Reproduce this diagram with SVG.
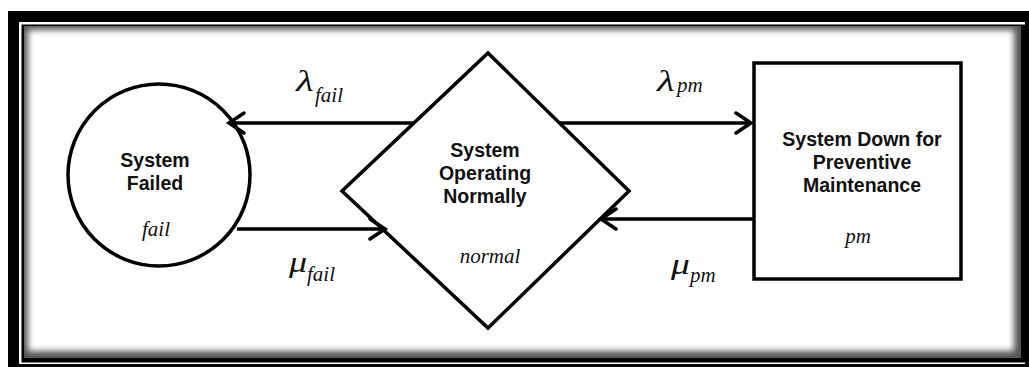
<svg xmlns="http://www.w3.org/2000/svg" width="1029" height="367" viewBox="0 0 1029 367">
  <defs>
    <filter id="soft" x="-5%" y="-5%" width="110%" height="110%">
      <feGaussianBlur stdDeviation="3"/>
    </filter>
    <clipPath id="inner">
      <rect x="24" y="26" width="997" height="332"/>
    </clipPath>
    <marker id="arr" markerUnits="userSpaceOnUse" markerWidth="24" markerHeight="24" viewBox="-18 -12 22 24" refX="0" refY="0" orient="auto">
      <path d="M-15,-10 L0,0 L-15,10" fill="none" stroke="#000" stroke-width="3.5" stroke-linecap="round" stroke-linejoin="miter"/>
    </marker>
    <style>
      .shape { fill: #fff; stroke: #000; stroke-width: 3.5; }
      .conn { fill: none; stroke: #000; stroke-width: 3.5; marker-end: url(#arr); }
      .lbl { font-family: "Liberation Sans", Arial, sans-serif; font-weight: bold; font-size: 19.5px; fill: #111; text-anchor: middle; }
      .ital { font-family: "Liberation Serif", "Times New Roman", serif; font-style: italic; font-size: 21px; fill: #111; text-anchor: middle; }
      .greek { font-family: "Liberation Serif", "Times New Roman", serif; font-style: italic; font-size: 30px; fill: #111; }
      .sub { font-family: "Liberation Serif", "Times New Roman", serif; font-style: italic; font-size: 21px; fill: #111; }
    </style>
  </defs>

  <!-- frame -->
  <g id="frame">
    <rect x="0" y="0" width="1029" height="367" fill="#fff"/>
    <rect x="8" y="11" width="1030" height="370" fill="#000"/>
    <rect x="19" y="22" width="1006" height="342" fill="#fff"/>
    <rect x="21.5" y="24.5" width="1010" height="338" fill="#000"/>
    <g clip-path="url(#inner)">
      <rect x="24" y="26" width="997" height="332" fill="#555"/>
      <rect x="28" y="30" width="986" height="321" fill="#fff" filter="url(#soft)"/>
    </g>
  </g>

  <!-- nodes -->
  <g id="node-fail">
    <circle class="shape" cx="159" cy="175" r="91"/>
    <text class="lbl" x="155" y="167">System</text>
    <text class="lbl" x="155" y="190">Failed</text>
    <text class="ital" x="156" y="236">fail</text>
  </g>

  <g id="node-normal">
    <polygon class="shape" points="488,53 629,191 488,328 342,191"/>
    <text class="lbl" x="485" y="157">System</text>
    <text class="lbl" x="485" y="180">Operating</text>
    <text class="lbl" x="485" y="203">Normally</text>
    <text class="ital" x="490" y="263">normal</text>
  </g>

  <g id="node-pm">
    <rect class="shape" x="754" y="63" width="207" height="216"/>
    <text class="lbl" x="862" y="146">System Down for</text>
    <text class="lbl" x="862" y="169">Preventive</text>
    <text class="lbl" x="862" y="192">Maintenance</text>
    <text class="ital" x="858" y="243">pm</text>
  </g>

  <!-- connectors -->
  <g id="connectors">
    <line class="conn" x1="414" y1="123" x2="229" y2="123"/>
    <line class="conn" x1="237" y1="229" x2="385" y2="229"/>
    <line class="conn" x1="559" y1="123" x2="751" y2="123"/>
    <line class="conn" x1="754" y1="219" x2="601" y2="219"/>
  </g>

  <!-- connector labels -->
  <g id="labels">
    <text class="greek" transform="translate(296,91) scale(1.35,1)">λ</text>
    <text class="sub" x="315" y="102">fail</text>
    <text class="greek" transform="translate(289,272) scale(1.2,1)">μ</text>
    <text class="sub" x="307" y="281">fail</text>
    <text class="greek" transform="translate(671,274) scale(1.25,1)">μ</text>
    <text class="sub" x="690" y="282">pm</text>
    <text class="greek" transform="translate(657,91) scale(1.35,1)">λ</text>
    <text class="sub" x="677" y="92">pm</text>
  </g>
</svg>
